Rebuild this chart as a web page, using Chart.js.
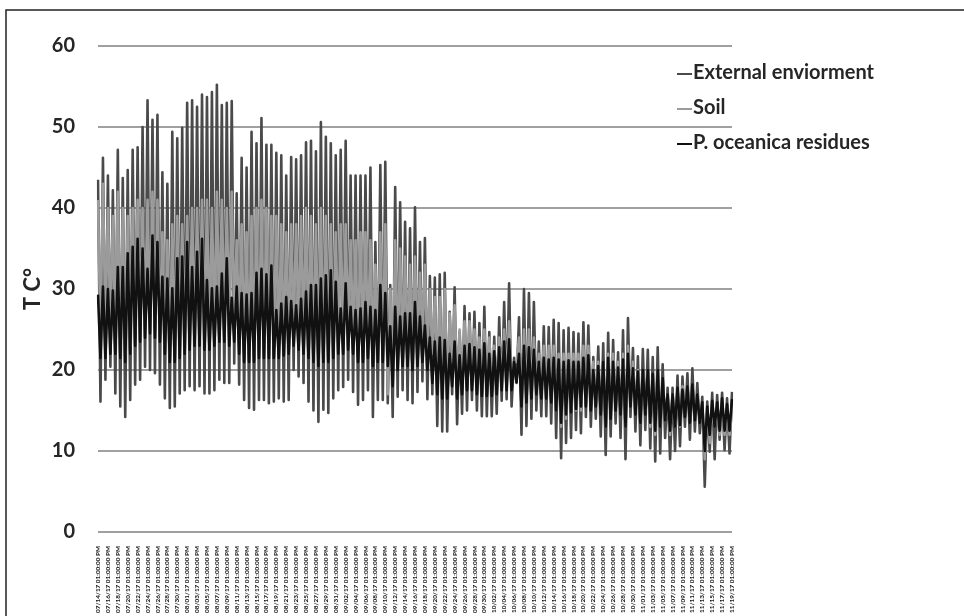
<!DOCTYPE html>
<html>
<head>
<meta charset="utf-8">
<script src="https://cdn.jsdelivr.net/npm/chart.js@4"></script>
<style>
  html, body { margin: 0; padding: 0; background: #fff; }
  #chart { display: block; }
</style>
</head>
<body>
<canvas id="chart" width="964" height="616"></canvas>
<script>
// tick dates, one every two days (each at 01:00:00 PM)
var tickDates = [
  '07/14/17','07/16/17','07/18/17','07/20/17','07/22/17','07/24/17','07/26/17','07/28/17','07/30/17',
  '08/01/17','08/03/17','08/05/17','08/07/17','08/09/17','08/11/17','08/13/17','08/15/17',
  '08/17/17','08/19/17','08/21/17','08/23/17','08/25/17','08/27/17','08/29/17','08/31/17',
  '09/02/17','09/04/17','09/06/17','09/08/17','09/10/17','09/12/17','09/14/17','09/16/17',
  '09/18/17','09/20/17','09/22/17','09/24/17','09/26/17','09/28/17','09/30/17',
  '10/02/17','10/04/17','10/06/17','10/08/17','10/10/17','10/12/17','10/14/17','10/16/17',
  '10/18/17','10/20/17','10/22/17','10/24/17','10/26/17','10/28/17','10/30/17',
  '11/01/17','11/03/17','11/05/17','11/07/17','11/09/17','11/11/17','11/13/17','11/15/17',
  '11/17/17','11/19/17'
];
var tickTime = ' 01:00:00 PM';

// daily afternoon peaks and night lows (07/14 .. 11/19)
var extMax = [
  43.5, 46.2, 44, 42.2, 47.2, 43.7, 44.7, 47.2, 47.5, 50,
  53.3, 50.9, 51.5, 44.4, 43, 49.4, 48.6, 49.9, 53, 53.3,
  52.5, 54, 53.7, 54.3, 55.2, 52.7, 53, 53.2, 41.8, 46.2,
  45, 49.4, 48, 51.1, 47.8, 47.8, 46.8, 46.5, 44, 46.3,
  46, 46.5, 48.1, 48.3, 47, 50.6, 48.8, 48, 46.5, 47.2,
  48.3, 44, 44, 44, 44, 45, 35.8, 45.3, 45.7, 30.5,
  42.6, 40.7, 38.3, 37.5, 40.1, 35.8, 36.3, 31.6, 31.4, 31.8,
  32, 27.2, 30.2, 24.7, 27.9, 27, 27.2, 25.8, 27.8, 24.7,
  24.1, 26.5, 28.4, 30.7, 21.5, 26.5, 30, 29.5, 28.4, 23.5,
  25.4, 25.3, 26.2, 25.8, 24.9, 25.2, 24.7, 24.5, 25.9, 25.5,
  21.6, 22.9, 23.3, 24.6, 23.7, 22.2, 24.9, 26.4, 22.7, 21.7,
  22.6, 22.5, 21.6, 22.8, 20.7, 17.8, 17.8, 19.3, 19.2, 19.6,
  20.2, 18.4, 16.7, 16.1, 17.2, 16.9, 17.2, 16.5, 17.3
];
var extMin = [
  16.1, 18.8, 20.4, 17.1, 15.5, 14.2, 16.3, 18.2, 18.8, 20.4,
  20, 19.6, 18.2, 16.5, 15.3, 15.5, 17.1, 17.5, 18, 17.5,
  18, 17.1, 17.1, 17.5, 18.8, 18.4, 18.4, 20.8, 18.2, 16.3,
  15.3, 15.1, 16.3, 16.3, 15.9, 16.1, 16.5, 16.1, 16.3, 20,
  19.2, 18.4, 16.1, 15, 13.6, 15.1, 14.7, 16.5, 17.5, 17.9,
  18.8, 17.3, 15.7, 16.3, 17.5, 14.2, 16.3, 16.3, 15.9, 14.2,
  16.7, 17.5, 16.3, 15.9, 17.3, 18.6, 16.4, 17, 13.1, 12.4,
  12.4, 17, 13.3, 14.6, 15, 16.3, 15, 14.3, 14.3, 14.3,
  14.6, 16.2, 16.4, 15.5, 18.4, 12, 13.1, 14, 15, 14.3,
  14.3, 13.4, 11.6, 9.1, 11, 11.6, 12.6, 12.2, 14.2, 13,
  14, 11.8, 9.5, 11.8, 13.4, 11.6, 9, 14.2, 12.4, 10.7,
  12.6, 10.3, 8.7, 9.7, 11.6, 9, 10, 10.6, 13, 11.4,
  12.4, 12.2, 5.6, 9.9, 9, 11.4, 10.1, 9.7, 9.3
];
var soilMax = [
  41, 43, 40, 39, 42, 40, 39, 40, 41, 40,
  41, 42, 41, 37, 36, 38, 39, 38, 39, 40,
  40, 41, 41, 40, 42, 41, 40, 42, 36, 38,
  37, 39, 40, 41, 40, 39, 39, 38, 37, 38,
  38, 39, 40, 39, 38, 40, 39, 38, 37, 38,
  38, 36, 36, 37, 37, 36, 33, 37, 38, 30,
  36, 35, 34, 33, 34, 32, 33, 30, 29, 29,
  30, 27, 28, 25, 26, 26, 25, 24, 25, 24,
  23, 24, 25, 26, 21, 24, 25, 25, 24, 22,
  23, 23, 23, 22, 22, 22, 22, 22, 23, 23,
  21, 21, 21, 22, 22, 21, 22, 23, 21, 20,
  20, 20, 19, 20, 19, 17, 17, 17, 18, 18,
  18, 17, 15, 15, 15, 15, 15, 15, 15
];
var soilMin = [
  24, 25, 25, 24, 23, 22, 23, 25, 26, 27,
  27, 26, 25, 23, 22, 23, 24, 24, 25, 25,
  25, 24, 24, 25, 26, 26, 26, 27, 25, 23,
  22, 22, 23, 23, 23, 23, 23, 23, 23, 25,
  25, 24, 23, 22, 21, 22, 22, 23, 24, 24,
  25, 24, 23, 23, 24, 22, 23, 23, 17, 21,
  22, 23, 22, 22, 23, 24, 22, 22, 19, 18,
  18, 21, 19, 19, 19, 20, 19, 18, 18, 18,
  18, 19, 19, 19, 21, 16, 17, 18, 18, 18,
  18, 17, 15, 13, 14, 15, 15, 15, 16, 16,
  16, 15, 13, 15, 16, 15, 13, 17, 15, 14,
  15, 13, 12, 13, 14, 12, 13, 13, 15, 14,
  14, 14, 9, 11, 13, 12, 12, 12, 12
];
var posMax = [
  29.3, 30.3, 30, 29.8, 32.7, 32.7, 34.4, 35.2, 36.2, 35,
  32.5, 36.6, 35.8, 31.5, 31.3, 30.1, 33.8, 34, 35.8, 32.7,
  34.6, 36.2, 31.1, 30.1, 30.3, 31.9, 33.8, 28.9, 30.3, 29.5,
  29.3, 29.5, 32, 32.5, 31.8, 32.9, 27.4, 28.2, 29, 28.5,
  28, 28.8, 29.7, 30.5, 30.5, 31.3, 31.7, 32.3, 30.9, 27.6,
  30.7, 27.8, 27.4, 27.6, 28.4, 27.8, 27.4, 30.5, 29.5, 25.4,
  27.8, 26.6, 27, 27, 28.4, 26.6, 25.5, 24, 23.5, 24,
  23.7, 22, 23.5, 21.8, 23, 23.2, 22.8, 22.5, 23.3, 22,
  22.3, 22.8, 23.5, 23.8, 21, 22, 23, 22.8, 22.5, 21,
  21.5, 21.3, 21.5, 21.3, 21, 21.2, 21, 21, 21.5, 21.8,
  20, 20.5, 21, 21.5, 21, 20.3, 21.3, 22, 20.2, 19.8,
  20, 20, 19.5, 20, 19, 17, 17, 17.8, 17.6, 18,
  18.2, 17, 16, 15.5, 16.2, 16, 16.5, 15.8, 16.4
];
var posMin = [
  21.5, 21.5, 22, 22, 21.5, 21, 22, 23, 23.5, 24,
  24.5, 24, 23.5, 22, 21, 21, 21.5, 22, 22.5, 23,
  23, 22.5, 22.5, 23, 23.5, 23.5, 23, 23.5, 22, 21,
  21, 21, 21.5, 21.5, 21.5, 21.5, 21.5, 21.8, 22, 23,
  22.5, 22, 21.5, 21, 20.5, 21, 21, 21.5, 22, 22,
  22.5, 22, 21, 21, 21.5, 20.5, 21, 21, 20.5, 18,
  20, 20.5, 20.5, 20, 20.5, 21, 20, 18.4, 17, 16.5,
  16.5, 18, 16.5, 17, 17.5, 17.5, 17, 16.8, 16.8, 16.8,
  17, 17.5, 17.5, 17.5, 18.5, 15.5, 16, 16.5, 17, 16.5,
  16.5, 16, 15, 13.5, 14.5, 14.8, 15.2, 15.5, 15.5, 15,
  15.5, 14.5, 13, 14, 15, 14.5, 13, 15.5, 14.5, 13.5,
  14.5, 13.5, 12.5, 13, 13.8, 12.5, 13, 13.2, 14.2, 13.5,
  13.8, 13.5, 10, 12, 13, 12.5, 12.5, 12.5, 12.5
];

var seriesNames = ['External enviorment', 'Soil', 'P. oceanica residues'];
var seriesColors = ['#4a4a4a', '#9b9b9b', '#111111'];
// drawn like the spreadsheet: first series at the back, last in front
var seriesOrder = [3, 2, 1];

// afternoon peak, then the low of the following night
function dayCycle(maxs, mins) {
  var out = [];
  for (var d = 0; d < maxs.length; d++) {
    out.push(maxs[d]);
    if (d < maxs.length - 1) out.push(mins[d]);
  }
  return out;
}

var labels = [];
var nPoints = extMax.length * 2 - 1;
for (var i = 0; i < nPoints; i++) {
  labels.push(i % 4 == 0 ? tickDates[i / 4] + tickTime : '');
}

var font = 'Lato, "Open Sans", sans-serif';
var textColor = '#262626';

// legend is drawn by hand: it sits half over the plot, as in the original
var sideLegend = {
  id: 'sideLegend',
  afterDraw: function(chart) {
    var ctx = chart.ctx;
    var x = chart.chartArea.right - 55;
    ctx.save();
    ctx.font = 'bold 20px ' + font;
    ctx.textBaseline = 'middle';
    chart.data.datasets.forEach(function(ds, k) {
      var y = 73 + k * 35;
      ctx.strokeStyle = ds.borderColor;
      ctx.lineWidth = 2;
      ctx.beginPath();
      ctx.moveTo(x, y + 1);
      ctx.lineTo(x + 15, y + 1);
      ctx.stroke();
      ctx.fillStyle = textColor;
      ctx.fillText(ds.label, x + 16, y);
    });
    // frame of the figure
    ctx.strokeStyle = '#222';
    ctx.lineWidth = 1.5;
    ctx.beginPath();
    ctx.moveTo(6, 616);
    ctx.lineTo(6, 10);
    ctx.lineTo(964, 10);
    ctx.stroke();
    ctx.restore();
  }
};

var sets = [
  dayCycle(extMax, extMin),
  dayCycle(soilMax, soilMin),
  dayCycle(posMax, posMin)
].map(function(vals, k) {
  return {
    label: seriesNames[k],
    data: vals,
    borderColor: seriesColors[k],
    borderWidth: 2.6,
    pointRadius: 0,
    tension: 0,
    borderJoinStyle: 'round',
    order: seriesOrder[k]
  };
});

new Chart(document.getElementById('chart'), {
  type: 'line',
  data: { labels: labels, datasets: sets },
  plugins: [sideLegend],
  options: {
    responsive: false,
    animation: false,
    devicePixelRatio: 1,
    layout: { padding: { top: 46, right: 232, bottom: 0, left: 0 } },
    plugins: { legend: { display: false }, tooltip: { enabled: false } },
    scales: {
      x: {
        grid: { display: false },
        border: { display: false },
        afterFit: function(scale) { scale.height = 84; },
        ticks: {
          autoSkip: false,
          maxRotation: 90,
          minRotation: 90,
          padding: 6,
          color: '#1a1a1a',
          font: { family: font, size: 6.4, weight: 900 }
        }
      },
      y: {
        min: 0,
        max: 60,
        afterFit: function(scale) { scale.width = 98; },
        grid: { color: '#a0a0a0', lineWidth: 2, drawTicks: false },
        border: { display: false },
        ticks: {
          stepSize: 10,
          padding: 23,
          color: textColor,
          font: { family: font, size: 20, weight: 'bold' }
        },
        title: {
          display: true,
          text: 'T C°',
          color: textColor,
          padding: { top: 20, bottom: 0 },
          font: { family: font, size: 22, weight: 'bold' }
        }
      }
    }
  }
});
</script>
</body>
</html>
